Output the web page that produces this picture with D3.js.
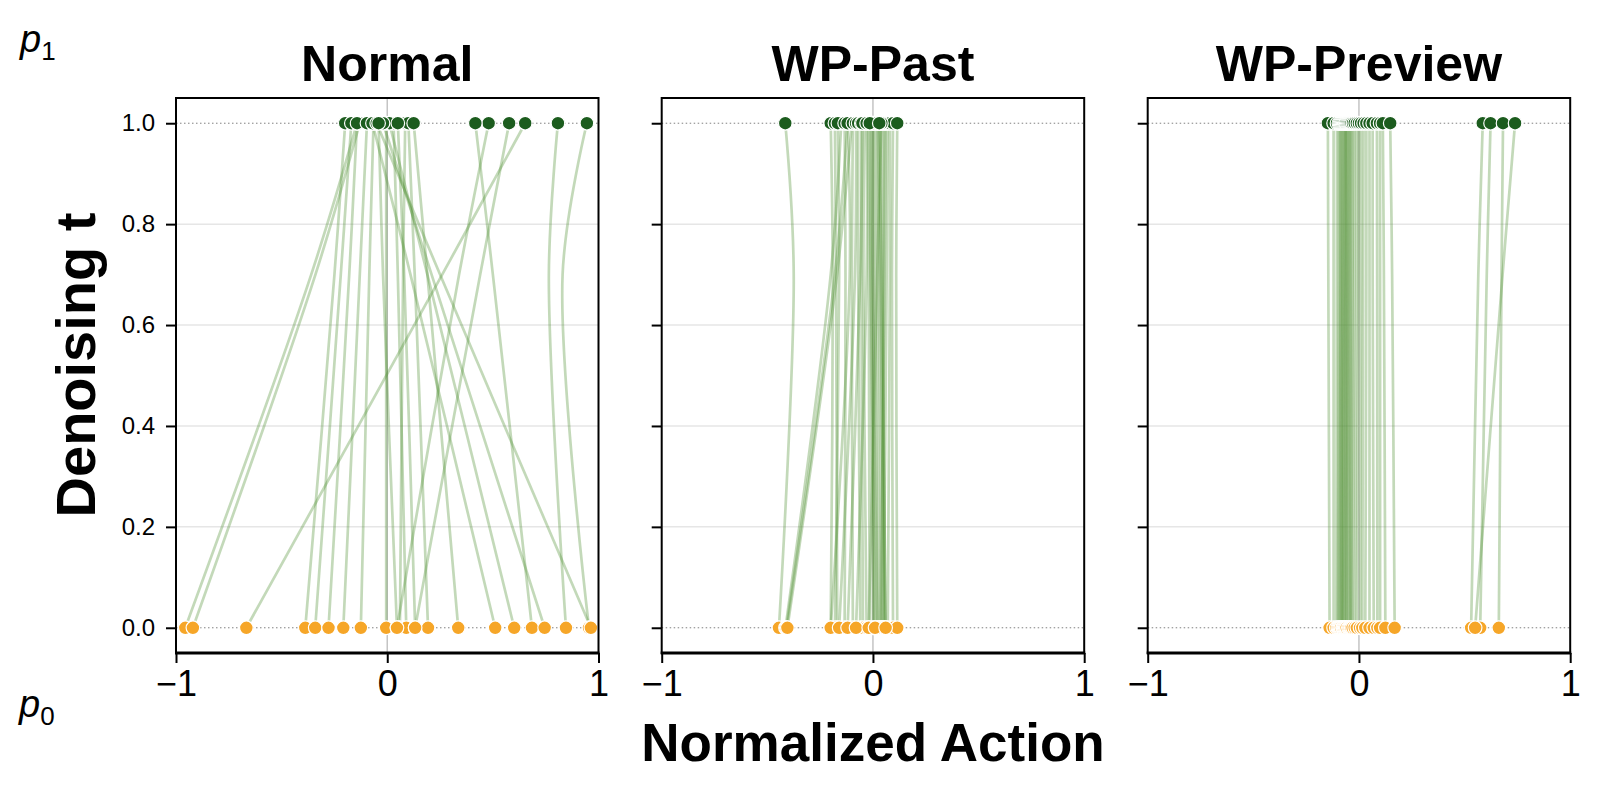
<!DOCTYPE html>
<html><head><meta charset="utf-8">
<script src="https://cdn.jsdelivr.net/npm/d3@7"></script>
<style>body{margin:0;background:#fff}svg{display:block}text{font-family:"Liberation Sans",Arial,Helvetica,sans-serif}</style>
</head><body><svg id="c" width="1602" height="791"></svg>
<script>
// ---- data ----
const panelTitles = ["Normal", "WP-Past", "WP-Preview"];
const tKnots = [1, 0.7, 0];            // denoising time of each trajectory knot
const yTicks = [0, 0.2, 0.4, 0.6, 0.8, 1.0];
const xTicks = [-1, 0, 1];
// each trajectory: x at t=1 (p1), x at t=0.7, x at t=0 (p0)
const normalTraj = [
  [-0.143,-0.36,-0.956],[-0.13,-0.34,-0.92],[0.653,0.26,-0.667],[-0.199,-0.25,-0.388],
  [-0.17,-0.22,-0.341],[-0.143,-0.18,-0.278],[-0.096,-0.13,-0.208],[-0.065,-0.085,-0.125],
  [-0.005,-0.005,-0.005],[0.085,0.075,0.06],[0.48,0.34,0.046],[0.03,0.05,0.09],
  [0.577,0.44,0.132],[0.1,0.13,0.193],[0.125,0.19,0.336],[-0.07,0.11,0.511],
  [0.01,0.19,0.601],[0.417,0.50,0.685],[-0.02,0.21,0.745],[0.808,0.765,0.846],
  [0.945,0.83,0.955],[-0.05,0.25,0.964],[-0.041,-0.02,0.046],[0.05,0.08,0.132]
];
const pastTraj = [
  [-0.415,-0.375,-0.445],[-0.15,-0.20,-0.414],[-0.12,-0.18,-0.41],[-0.10,-0.17,-0.405],
  [-0.2,-0.19,-0.2],[-0.18,-0.175,-0.169],[-0.166,-0.16,-0.18],[-0.134,-0.13,-0.134],
  [-0.12,-0.11,-0.2],[-0.095,-0.1,-0.095],[-0.08,-0.085,-0.16],[-0.07,-0.07,-0.06],
  [-0.055,-0.055,-0.047],[-0.04,-0.045,-0.03],[-0.024,-0.02,-0.016],[-0.01,-0.01,0.0],
  [0.0,0.0,0.005],[0.01,0.01,0.021],[0.02,0.02,0.03],[0.024,0.03,0.04],
  [0.035,0.035,0.055],[0.045,0.045,0.06],[0.055,0.05,0.045],[0.06,0.055,0.035],
  [0.07,0.065,0.05],[0.08,0.08,0.07],[0.095,0.09,0.095],[0.115,0.11,0.115],
  [-0.05,-0.06,-0.12],[-0.03,-0.03,-0.08],[0.04,0.02,-0.02],[0.0,0.0,0.02],
  [-0.015,-0.01,0.01],[0.03,0.04,0.06]
];
const previewTraj = [
  [-0.147,-0.145,-0.139],[-0.12,-0.12,-0.12],[-0.104,-0.105,-0.107],[-0.095,-0.095,-0.1],
  [-0.09,-0.09,-0.095],[-0.085,-0.085,-0.09],[-0.08,-0.08,-0.082],[-0.075,-0.078,-0.085],
  [-0.07,-0.072,-0.078],[-0.065,-0.068,-0.075],[-0.063,-0.064,-0.07],[-0.06,-0.06,-0.065],
  [-0.055,-0.056,-0.06],[-0.05,-0.052,-0.058],[-0.045,-0.047,-0.05],[-0.04,-0.042,-0.045],
  [-0.035,-0.037,-0.04],[-0.028,-0.03,-0.036],[-0.02,-0.022,-0.03],[-0.01,-0.012,-0.02],
  [0.0,-0.002,-0.01],[0.01,0.01,0.005],[0.022,0.02,0.016],[0.035,0.035,0.03],
  [0.05,0.05,0.05],[0.065,0.065,0.07],[0.085,0.086,0.087],[0.1,0.1,0.1],
  [0.113,0.118,0.125],[0.148,0.157,0.169],[0.586,0.565,0.531],[0.623,0.605,0.574],
  [0.682,0.675,0.662],[0.739,0.68,0.55]
];
const panelData = [normalTraj, pastTraj, previewTraj];

// ---- layout ----
const svg = d3.select("#c");
const font = '"Liberation Sans",Arial,Helvetica,sans-serif';
const panelLeft = [176, 661.7, 1147.7], panelW = 422.5;
const yTop = 98, yBot = 653;
const y = d3.scaleLinear().domain([-0.05, 1.05]).range([yBot, yTop]);
const lineCol = "#4f8f33", topCol = "#1c5c1e", botCol = "#f6a628";

panelData.forEach((traj, i) => {
  const x0 = panelLeft[i];
  const x = d3.scaleLinear().domain([-1, 1]).range([x0, x0 + panelW]);
  const g = svg.append("g");
  // grid
  g.selectAll(".hg").data([0.2,0.4,0.6,0.8]).join("line")
    .attr("x1", x0).attr("x2", x0 + panelW).attr("y1", d => y(d)).attr("y2", d => y(d))
    .attr("stroke", "#e6e6e6").attr("stroke-width", 1.5);
  g.append("line").attr("x1", x(0)).attr("x2", x(0)).attr("y1", yTop).attr("y2", yBot)
    .attr("stroke", "#c4c4c4").attr("stroke-width", 1.5);
  g.selectAll(".dg").data([0, 1]).join("line")
    .attr("x1", x0).attr("x2", x0 + panelW).attr("y1", d => y(d)).attr("y2", d => y(d))
    .attr("stroke", "#808080").attr("stroke-width", 1).attr("stroke-dasharray", "1.5,2.5");
  // trajectories
  const line = d3.line().x(d => x(d[0])).y(d => y(d[1])).curve(d3.curveCatmullRom);
  g.selectAll(".tr").data(traj).join("path")
    .attr("d", d => line(d.map((v, k) => [v, tKnots[k]])))
    .attr("fill", "none").attr("stroke", lineCol).attr("stroke-opacity", 0.34).attr("stroke-width", 2.7);
  // points
  g.selectAll(".p0").data(traj).join("circle")
    .attr("cx", d => x(d[2])).attr("cy", y(0)).attr("r", 6.8)
    .attr("fill", botCol).attr("stroke", "#fff").attr("stroke-width", 1.2);
  g.selectAll(".p1").data(traj).join("circle")
    .attr("cx", d => x(d[0])).attr("cy", y(1)).attr("r", 6.8)
    .attr("fill", topCol).attr("stroke", "#fff").attr("stroke-width", 1.2);
  // axes
  const ya = g.append("g").attr("transform", `translate(${x0},0)`)
    .call(d3.axisLeft(y).tickValues(yTicks).tickSize(10).tickPadding(11)
      .tickFormat(i === 0 ? d3.format(".1f") : () => ""));
  ya.select(".domain").remove();
  ya.selectAll("line").attr("stroke", "#000").attr("stroke-width", 2);
  ya.selectAll("text").attr("font-size", 24).attr("font-family", font).attr("fill", "#000");
  const xa = g.append("g").attr("transform", `translate(0,${yBot})`)
    .call(d3.axisBottom(x).tickValues(xTicks).tickSize(10).tickPadding(7)
      .tickFormat(d => d < 0 ? "\u2212" + Math.abs(d) : String(d)));
  xa.select(".domain").remove();
  xa.selectAll("line").attr("stroke", "#000").attr("stroke-width", 2);
  xa.selectAll("text").attr("font-size", 36).attr("font-family", font).attr("fill", "#000");
  // spines
  g.append("rect").attr("x", x0).attr("y", yTop).attr("width", panelW).attr("height", yBot - yTop)
    .attr("fill", "none").attr("stroke", "#000").attr("stroke-width", 2);
  g.append("line").attr("x1", x0 - 1).attr("x2", x0 + panelW + 1).attr("y1", yBot).attr("y2", yBot)
    .attr("stroke", "#000").attr("stroke-width", 3);
  // title
  g.append("text").attr("x", x(0)).attr("y", 81).attr("text-anchor", "middle")
    .attr("font-size", 50).attr("font-weight", "bold").text(panelTitles[i]);
});

// axis labels
svg.append("text").attr("transform", "translate(95,365) rotate(-90)").attr("text-anchor", "middle")
  .attr("font-size", 56).attr("font-weight", "bold").text("Denoising t");
svg.append("text").attr("x", 873).attr("y", 761).attr("text-anchor", "middle")
  .attr("font-size", 53).attr("font-weight", "bold").text("Normalized Action");
// p1 / p0
function pLabel(xp, yp, sub) {
  const t = svg.append("text").attr("x", xp).attr("y", yp);
  t.append("tspan").attr("font-size", 38).attr("font-style", "italic").text("p");
  t.append("tspan").attr("font-size", 26).attr("dy", 8).text(sub);
}
pLabel(20, 52, "1");
pLabel(19, 717, "0");
</script></body></html>
